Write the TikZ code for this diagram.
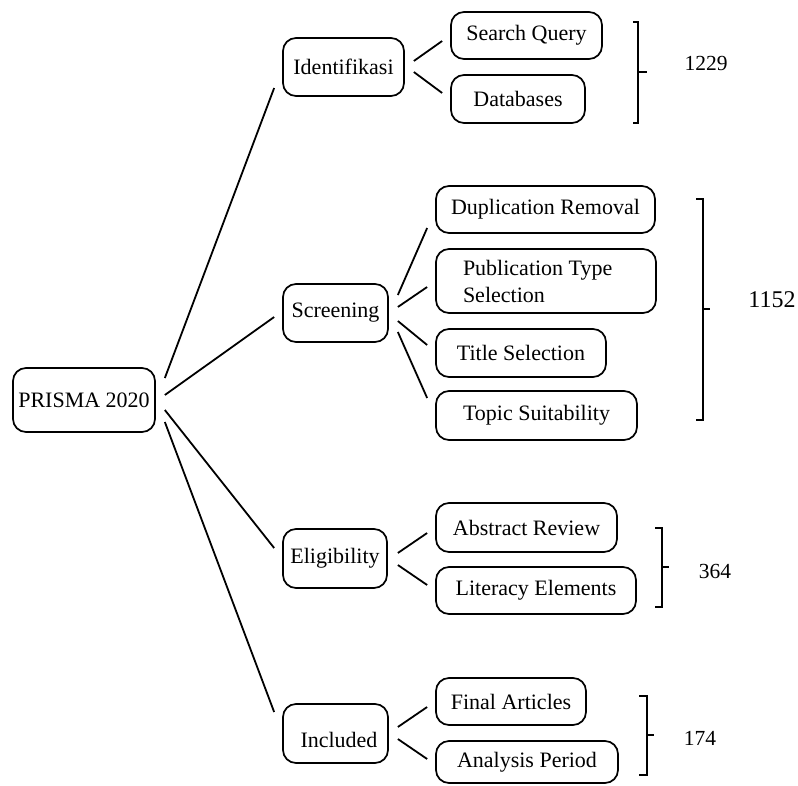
\documentclass[tikz,border=0pt]{standalone}
\usepackage{fontspec}
\setmainfont{Liberation Serif}
\usetikzlibrary{calc}
\begin{document}
\begin{tikzpicture}[x=1pt,y=-1pt,
  box/.style={draw, line width=1.7pt, rounded corners=13pt, inner sep=0pt,
    font=\fontsize{22}{27}\selectfont, align=center},
  label/.style={inner sep=0pt, font=\fontsize{22}{27}\selectfont},
  conn/.style={line width=1.8pt},
  brk/.style={line width=1.6pt},
  num/.style={inner sep=0pt, font=\fontsize{21.5}{25}\selectfont}]
\useasboundingbox (0,0) rectangle (798,785);
% main nodes
\node[box, minimum width=142pt, minimum height=64pt] (prisma) at (84,400) {PRISMA 2020};
\node[box, minimum width=121pt, minimum height=58pt] (ident) at (343.5,67) {Identifikasi};
\node[box, minimum width=105pt, minimum height=58pt] (screen) at (335.5,313) {Screening};
\node[box, minimum width=104pt, minimum height=59pt] (elig) at (335,558.5) {Eligibility};
\node[box, minimum width=105pt, minimum height=59pt] (incl) at (335.5,733.5) {};
\node[label] (incltext) at ($(incl.center)+(3.5,6)$) {Included};
% children
\node[box, minimum width=151pt, minimum height=47pt] (sq) at (526.5,35.5) {Search Query};
\node[box, minimum width=134pt, minimum height=48pt] (db) at (518,99) {Databases};
\node[box, minimum width=219pt, minimum height=47pt] (dup) at (545.5,209.5) {Duplication Removal};
\node[box, minimum width=220pt, minimum height=64pt, align=left] (pub) at (546,281) {\raisebox{-3pt}{\parbox{166pt}{Publication Type\\Selection}}};
\node[box, minimum width=170pt, minimum height=48pt] (title) at (521,353) {Title Selection};
\node[box, minimum width=201pt, minimum height=49pt] (topic) at (536.5,415.5) {Topic Suitability};
\node[box, minimum width=181pt, minimum height=49pt] (abs) at (526.5,527.5) {Abstract Review};
\node[box, minimum width=200pt, minimum height=47pt] (lit) at (536,590.5) {Literacy Elements};
\node[box, minimum width=150pt, minimum height=47pt] (final) at (511,701.5) {Final Articles};
\node[box, minimum width=182pt, minimum height=42pt] (anal) at (527,762) {Analysis Period};
% connectors from PRISMA
\draw[conn] ($(prisma.east)+(9,-22)$) -- ($(ident.west)+(-8,21)$);
\draw[conn] ($(prisma.east)+(9,-5)$) -- ($(screen.west)+(-8,4)$);
\draw[conn] ($(prisma.east)+(9,10)$) -- ($(elig.west)+(-8,-10.5)$);
\draw[conn] ($(prisma.east)+(9,22)$) -- ($(incl.west)+(-8,-21.5)$);
% Identifikasi
\draw[conn] ($(ident.east)+(9,-6)$) -- ($(sq.west)+(-8,5.5)$);
\draw[conn] ($(ident.east)+(9,5)$) -- ($(db.west)+(-8,-6)$);
% Screening
\draw[conn] ($(screen.east)+(9,-18)$) -- ($(dup.west)+(-8,18.5)$);
\draw[conn] ($(screen.east)+(9,-6)$) -- ($(pub.west)+(-8,6)$);
\draw[conn] ($(screen.east)+(9,8)$) -- ($(title.west)+(-8,-8)$);
\draw[conn] ($(screen.east)+(9,19)$) -- ($(topic.west)+(-8,-17.5)$);
% Eligibility
\draw[conn] ($(elig.east)+(10,-5.5)$) -- ($(abs.west)+(-8,5.5)$);
\draw[conn] ($(elig.east)+(10,6.5)$) -- ($(lit.west)+(-8,-5.5)$);
% Included
\draw[conn] ($(incl.east)+(9,-6.5)$) -- ($(final.west)+(-8,5.5)$);
\draw[conn] ($(incl.east)+(9,5.5)$) -- ($(anal.west)+(-8,-3)$);
% brackets
\draw[brk] (633,22) -- (638,22) -- (638,123) -- (633,123);
\draw[brk] (638,72) -- (647,72);
\node[num] (n1229) at (706,63) {1229};
\draw[brk] (696,199) -- (703,199) -- (703,420) -- (696,420);
\draw[brk] (703,309) -- (710,309);
\node[num, font=\fontsize{24}{28}\selectfont] (n1152) at (772,300) {1152};
\draw[brk] (655,528) -- (662,528) -- (662,607) -- (655,607);
\draw[brk] (662,567) -- (669,567);
\node[num] (n364) at (715,571) {364};
\draw[brk] (639,696) -- (647,696) -- (647,775) -- (639,775);
\draw[brk] (647,735) -- (654,735);
\node[num] (n174) at (700,738) {174};
\end{tikzpicture}
\end{document}
